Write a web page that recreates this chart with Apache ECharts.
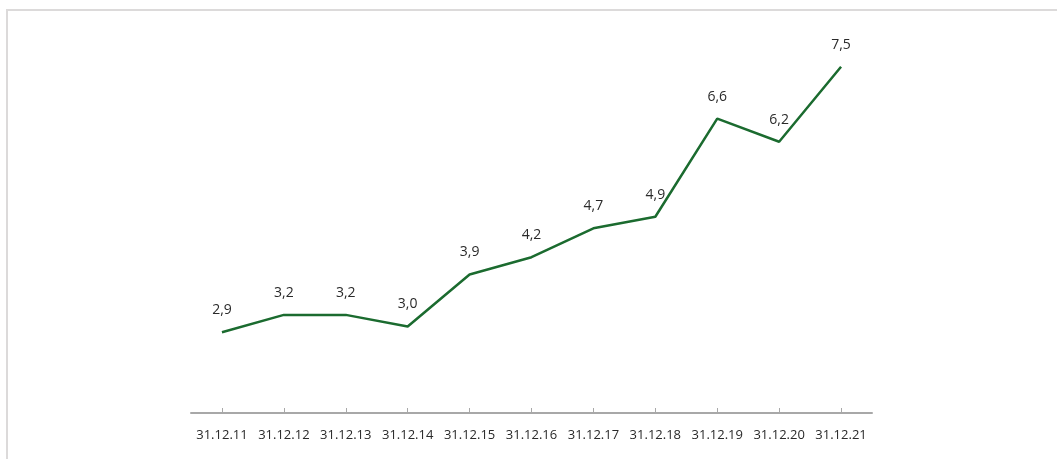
<!DOCTYPE html>
<html><head><meta charset="utf-8">
<script src="https://cdn.jsdelivr.net/npm/echarts@6/dist/echarts.min.js"></script>
<style>html,body{margin:0;padding:0;background:#fff;}#c{width:1057px;height:459px;}</style>
</head><body><div id="c"></div>
<script>
var categories = ['31.12.11','31.12.12','31.12.13','31.12.14','31.12.15','31.12.16','31.12.17','31.12.18','31.12.19','31.12.20','31.12.21'];
var values = [2.9, 3.2, 3.2, 3.0, 3.9, 4.2, 4.7, 4.9, 6.6, 6.2, 7.5];

var chart = echarts.init(document.getElementById('c'), null, {renderer:'canvas'});
chart.setOption({
  animation: false,
  backgroundColor: '#fff',
  graphic: [
    {type:'line', shape:{x1:7, y1:10, x2:1057, y2:10}, style:{stroke:'#dcdada', lineWidth:2}},
    {type:'line', shape:{x1:7, y1:9, x2:7, y2:459}, style:{stroke:'#dcdada', lineWidth:2}}
  ],
  grid: {left: 191, right: 1057-872, top: 9, bottom: 46},
  xAxis: {
    type: 'category',
    data: categories,
    boundaryGap: true,
    axisLine: {show: true, lineStyle: {color: '#a8a8a8', width: 2}},
    axisTick: {show: true, alignWithLabel: true, interval: 0, inside: true, length: 5, lineStyle: {color: '#a8a8a8', width: 1}},
    axisLabel: {interval: 0, color: '#2a2a2a', fontSize: 13, fontFamily: 'Open Sans', margin: 16}
  },
  yAxis: {
    type: 'value', min: 1.5, max: 8.5,
    show: false, splitLine: {show: false}
  },
  series: [{
    type: 'line',
    data: values,
    symbol: 'circle',
    symbolSize: 0,
    showSymbol: true,
    itemStyle: {color: '#1b6b2f'},
    lineStyle: {color: '#1b6b2f', width: 2.5},
    label: {
      show: true, position: 'top', distance: 15,
      color: '#2a2a2a', fontSize: 14, fontFamily: 'Open Sans',
      formatter: function(p){ return p.value.toFixed(1).replace('.', ','); }
    }
  }]
});
</script></body></html>
